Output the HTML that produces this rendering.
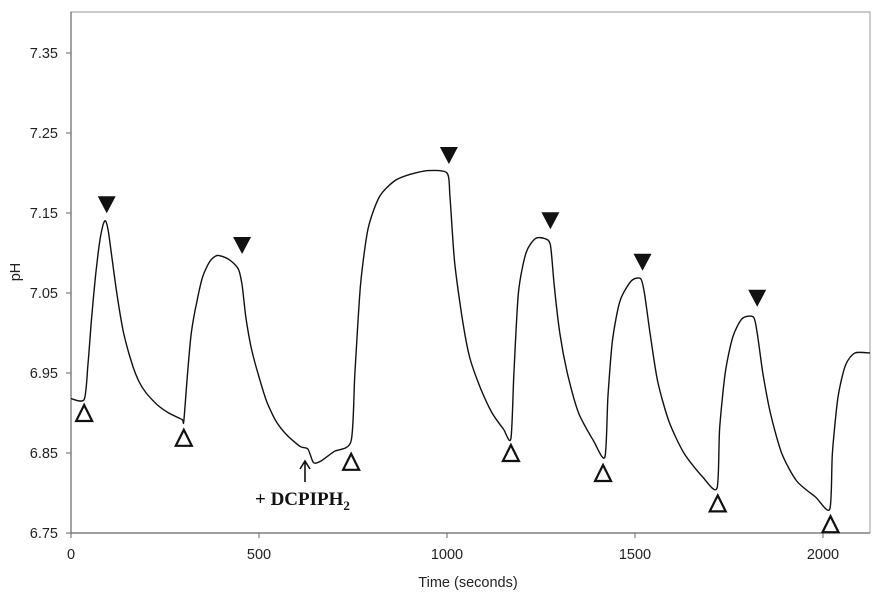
<!DOCTYPE html>
<html><head><meta charset="utf-8"><style>
body{margin:0;background:#fff;width:888px;height:604px;overflow:hidden}
svg{display:block;font-family:"Liberation Sans",Arial,sans-serif}
</style></head><body>
<svg id="chart" width="888" height="604" viewBox="0 0 888 604"></svg>
<script>
const xTicks=[0,500,1000,1500,2000];
const yTicks=[6.75,6.85,6.95,7.05,7.15,7.25,7.35];
const times=[0,35,45,55,65,75,85,92,100,110,125,140,160,180,200,230,260,295,
300,310,320,335,350,370,390,420,445,455,465,480,500,520,545,575,610,630,645,665,700,745,
755,770,790,820,860,900,950,1000,1008,1020,1040,1060,1090,1120,1150,1170,
1178,1190,1210,1235,1260,1275,1285,1300,1320,1350,1390,1420,
1428,1440,1460,1490,1515,1525,1540,1560,1590,1630,1680,1718,
1725,1740,1760,1785,1815,1825,1840,1860,1890,1930,1980,2018,
2025,2040,2060,2085,2125];
const phValues=[6.918,6.917,6.96,7.02,7.07,7.11,7.135,7.14,7.125,7.09,7.04,7.0,6.965,6.94,6.925,6.91,6.9,6.892,
6.89,6.95,7.0,7.04,7.07,7.09,7.097,7.092,7.08,7.06,7.02,6.98,6.945,6.915,6.89,6.872,6.858,6.855,6.838,6.84,6.852,6.865,
6.95,7.06,7.13,7.17,7.19,7.198,7.203,7.2,7.17,7.09,7.02,6.97,6.93,6.9,6.88,6.868,
6.95,7.05,7.1,7.118,7.118,7.11,7.06,7.0,6.95,6.9,6.865,6.845,
6.92,6.99,7.04,7.065,7.068,7.05,7.0,6.94,6.89,6.85,6.82,6.806,
6.88,6.95,6.995,7.018,7.02,7.0,6.95,6.9,6.85,6.815,6.795,6.78,
6.85,6.92,6.96,6.975,6.975];
const openT=[35,300,745,1170,1415,1720,2020];
const openPh=[6.9,6.869,6.839,6.85,6.825,6.787,6.761];
const fillT=[95,455,1005,1275,1520,1825];
const fillPh=[7.161,7.11,7.2225,7.141,7.089,7.044];

const X0=71,XS=0.376,Y0=533,YS=800;
const sx=t=>X0+t*XS;
const sy=v=>Y0-(v-6.75)*YS;
const svg=document.getElementById('chart');
const NS='http://www.w3.org/2000/svg';
function mk(tag,attrs,parent){const e=document.createElementNS(NS,tag);for(const k in attrs)e.setAttribute(k,attrs[k]);(parent||svg).appendChild(e);return e;}

let f=mk('rect',{x:71,y:12,width:799,height:521,fill:'none',stroke:'#999','stroke-width':1});


let ax=mk('path',{d:'M71 12V533H870',fill:'none',stroke:'#666','stroke-width':1.2});



yTicks.forEach(v=>{
 const y=sy(v);
 let t=mk('line',{x1:66,x2:71,y1:y,y2:y,stroke:'#666'});
 
 
 let l=mk('text',{x:58,y:y+5,'text-anchor':'end','font-size':14.5,fill:'#222'});
 l.textContent=v.toFixed(2);
 
 
});
xTicks.forEach(v=>{
 const x=sx(v);
 let t=mk('line',{x1:x,x2:x,y1:533,y2:538,stroke:'#666'});
 
 
 let l=mk('text',{x:x,y:559,'text-anchor':'middle','font-size':14.5,fill:'#222'});
 l.textContent=v;
 
 
});
let xt=mk('text',{x:468,y:587,'text-anchor':'middle','font-size':14.5,fill:'#222'});
xt.textContent='Time (seconds)';


let yt=mk('text',{x:0,y:0,'text-anchor':'middle','font-size':14.5,fill:'#222',transform:'translate(20,272) rotate(-90)'});
yt.textContent='pH';



const P=times.map((t,i)=>[sx(t),sy(phValues[i])]);
let d='M'+P[0][0].toFixed(1)+' '+P[0][1].toFixed(1);
for(let i=0;i<P.length-1;i++){
 const p0=P[Math.max(0,i-1)],p1=P[i],p2=P[i+1],p3=P[Math.min(P.length-1,i+2)];
 const k=1/8;
 const c1=[p1[0]+(p2[0]-p0[0])*k,p1[1]+(p2[1]-p0[1])*k];
 const c2=[p2[0]-(p3[0]-p1[0])*k,p2[1]-(p3[1]-p1[1])*k];
 d+='C'+c1[0].toFixed(1)+' '+c1[1].toFixed(1)+' '+c2[0].toFixed(1)+' '+c2[1].toFixed(1)+' '+p2[0].toFixed(1)+' '+p2[1].toFixed(1);
}
let line=mk('path',{d:d,fill:'none',stroke:'#111','stroke-width':1.4,'stroke-linejoin':'round'});



openT.forEach((t,i)=>{
 const x=sx(t),y=sy(openPh[i]);
 let m=mk('path',{d:`M${x} ${y-8}L${x+8} ${y+8}L${x-8} ${y+8}Z`,fill:'#fff',stroke:'#111','stroke-width':2.2,'stroke-linejoin':'miter'});
 
 
});
fillT.forEach((t,i)=>{
 const x=sx(t),y=sy(fillPh[i]);
 let m=mk('path',{d:`M${x-9} ${y-8}L${x+9} ${y-8}L${x} ${y+9}Z`,fill:'#111'});
 
 
});

let ar=mk('path',{d:'M305 482V462M300 469L305 461L310 469',fill:'none',stroke:'#111','stroke-width':1.6});


let an=mk('text',{x:255,y:505,'font-size':19,'font-weight':'bold','font-family':'"Liberation Serif",serif',fill:'#111'});
an.innerHTML='+ DCPIPH<tspan font-size="13" dy="5">2</tspan>';


</script>
</body></html>
